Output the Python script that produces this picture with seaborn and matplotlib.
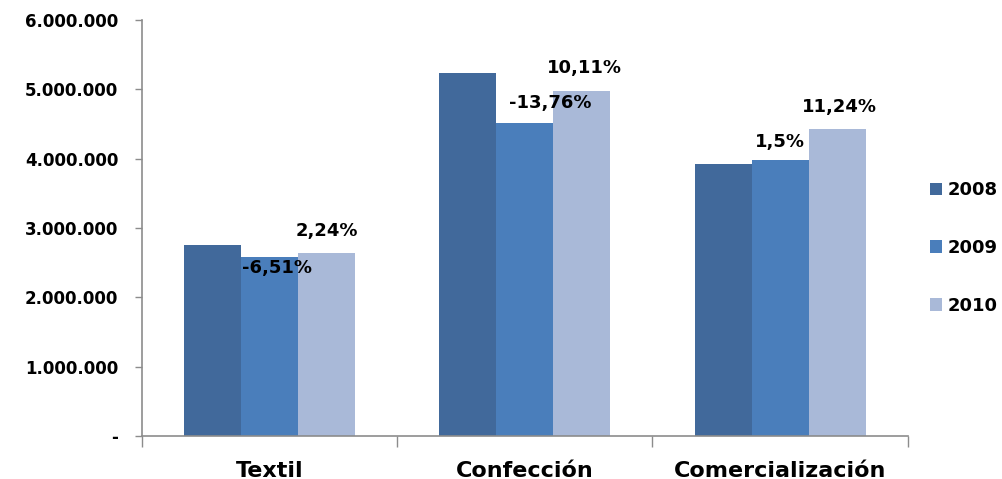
import numpy as np
import pandas as pd
import matplotlib
matplotlib.use("Agg")
import matplotlib.pyplot as plt
import seaborn as sns
from matplotlib.ticker import FuncFormatter, FixedLocator

categories = ["Textil", "Confección", "Comercialización"]
years = ["2008", "2009", "2010"]
v2008 = [2756000, 5240000, 3920000]
v2009 = [2577000, 4520000, 3980000]
v2010 = [2635000, 4980000, 4430000]
pct_labels = ["-6,51%", "2,24%", "-13,76%", "10,11%", "1,5%", "11,24%"]
colors = ["#41699B", "#4A7EBB", "#A9B9D8"]

df = pd.DataFrame({
    "cat": categories * 3,
    "year": [y for y in years for _ in categories],
    "val": v2008 + v2009 + v2010,
})

sns.set_style("white")
plt.rcParams["font.family"] = ["DejaVu Sans"]
plt.rcParams["text.color"] = "black"
plt.rcParams["xtick.color"] = "black"
plt.rcParams["ytick.color"] = "black"

fig = plt.figure(figsize=(10.03, 4.79), dpi=100)
ax = fig.add_axes([0.1416, 0.0898, 0.7634, 0.8684])

sns.barplot(data=df, x="cat", y="val", hue="year", palette=colors,
            width=0.67, gap=0, saturation=1, linewidth=0, ax=ax, legend=True)

ax.set_ylim(0, 6000000)
ax.set_xlim(-0.5, 2.5)
ax.set_xlabel("")
ax.set_ylabel("")

def fmt(v, pos):
    if v == 0:
        return "-"
    return f"{int(v):,}".replace(",", ".")

ax.yaxis.set_major_formatter(FuncFormatter(fmt))
ax.set_yticks(np.arange(0, 6000001, 1000000))
ax.tick_params(axis="y", left=True, length=5, width=1, color="#8c8c8c",
               labelcolor="black", pad=12, labelsize=12)
for t in ax.get_yticklabels():
    t.set_fontweight("bold")

ax.xaxis.set_minor_locator(FixedLocator([-0.5, 0.5, 1.5, 2.5]))
ax.tick_params(axis="x", which="major", length=0, pad=18, labelsize=16,
               labelcolor="black")
ax.tick_params(axis="x", which="minor", bottom=True, length=8, width=1,
               color="#8c8c8c")
for t in ax.get_xticklabels():
    t.set_fontweight("bold")

for side in ["top", "right"]:
    ax.spines[side].set_visible(False)
for side in ["left", "bottom"]:
    ax.spines[side].set_color("#8c8c8c")
    ax.spines[side].set_linewidth(1.2)

# etiquetas de variación porcentual
bw = 0.67 / 3
label_bars = [(0, 1), (0, 2), (1, 1), (1, 2), (2, 1), (2, 2)]
series = [v2008, v2009, v2010]
dx = [0.03, 0.0, 0.1, 0.01, 0.0, 0.01]
dy = [-160000, 320000, 290000, 330000, 260000, 320000]
for lab, (ci, si), ddx, ddy in zip(pct_labels, label_bars, dx, dy):
    x = ci + (si - 1) * bw + ddx
    y = series[si][ci] + ddy
    ax.text(x, y, lab, ha="center", va="center", fontsize=13,
            fontweight="bold", color="black")

handles, labels = ax.get_legend_handles_labels()
ax.get_legend().remove()
leg = fig.legend(handles, labels, loc="center left",
                 bbox_to_anchor=(0.927, 0.482), frameon=False,
                 handlelength=0.7, handleheight=0.7, handletextpad=0.3,
                 borderaxespad=0, borderpad=0,
                 labelspacing=2.2, prop={"weight": "bold", "size": 13})

fig.savefig("out.png", dpi=100)
